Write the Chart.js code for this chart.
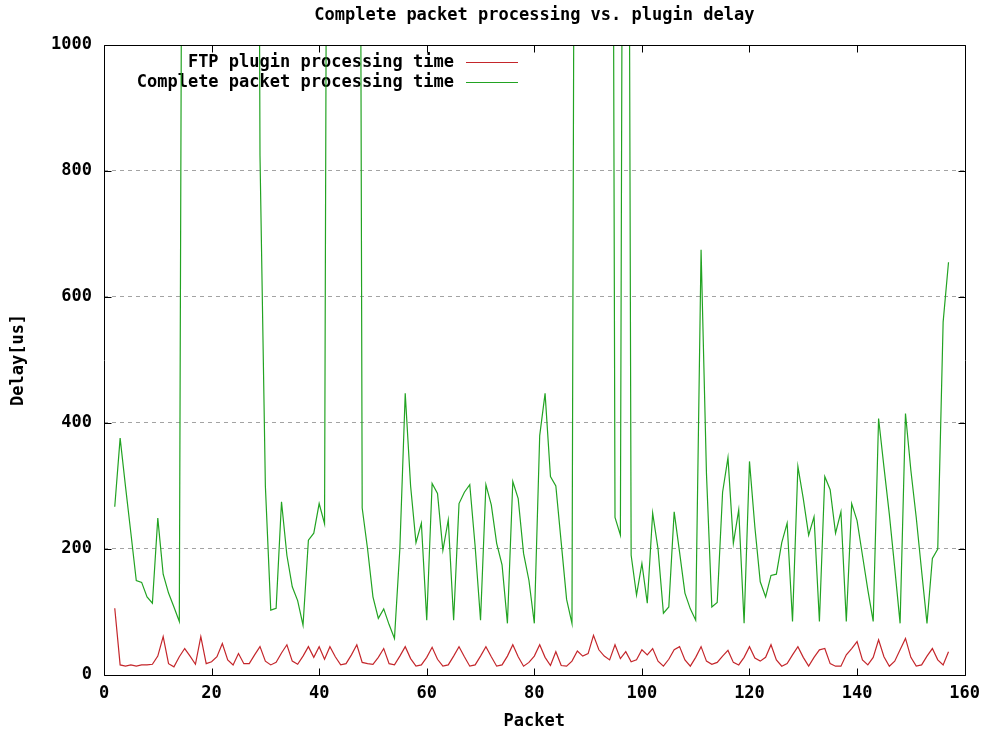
<!DOCTYPE html>
<html>
<head>
<meta charset="utf-8">
<title>Complete packet processing vs. plugin delay</title>
<script src="https://cdn.jsdelivr.net/npm/chart.js@4.4.1/dist/chart.umd.min.js"></script>
<style>
  html, body { margin: 0; padding: 0; background: #fff; }
  #wrap { width: 988px; height: 736px; }
</style>
</head>
<body>
<div id="wrap"><canvas id="delayChart" width="988" height="736"></canvas></div>
<script>
// packets 2..157, one sample per packet
const firstPacket = 2;

// FTP plugin processing time [us]
const ftpDelay = [
  106, 16, 14, 16, 14, 16, 16, 17, 30, 61,
  18, 13, 29, 42, 30, 17, 61, 18, 21, 29,
  50, 24, 16, 34, 18, 18, 32, 45, 22, 16,
  20, 35, 48, 22, 17, 30, 45, 28, 45, 25,
  45, 29, 16, 18, 32, 48, 20, 18, 17, 28,
  42, 18, 16, 30, 45, 26, 14, 16, 28, 44,
  25, 14, 16, 30, 45, 29, 14, 16, 30, 45,
  29, 14, 16, 30, 48, 29, 14, 20, 30, 48,
  28, 15, 37, 15, 14, 22, 38, 30, 34, 63,
  40, 30, 24, 48, 26, 37, 21, 24, 40, 32,
  42, 22, 14, 25, 40, 45, 24, 14, 28, 45,
  22, 17, 20, 30, 39, 20, 16, 28, 45, 27,
  22, 28, 48, 24, 14, 18, 32, 45, 28, 14,
  28, 40, 42, 18, 14, 14, 32, 42, 53, 24,
  16, 28, 56, 29, 14, 22, 40, 58, 28, 14,
  16, 30, 42, 24, 16, 37
];

// Complete packet processing time [us] (values above 1000 run off the plot)
const totalDelay = [
  267, 376, 299, 225, 150, 147, 124, 114, 249, 160,
  130, 108, 85, 2600, 3100, 2800, 3400, 2900, 3600, 3000,
  2700, 3300, 2900, 3500, 3100, 2800, 3200, 825, 300, 103,
  106, 275, 190, 140, 118, 79, 214, 225, 272, 240,
  2900, 3400, 3100, 3600, 3000, 3300, 265, 200, 124, 90,
  105, 80, 58, 200, 447, 300, 210, 241, 87, 304,
  288, 198, 246, 87, 272, 290, 302, 204, 87, 302,
  270, 209, 175, 82, 307, 280, 193, 150, 82, 380,
  447, 315, 300, 210, 120, 82, 3000, 3500, 2800, 3300,
  3100, 3600, 3200, 250, 222, 3000, 190, 127, 177, 114,
  257, 200, 98, 108, 259, 195, 130, 105, 87, 675,
  320, 108, 115, 290, 345, 209, 262, 82, 339, 235,
  148, 124, 158, 160, 210, 241, 85, 331, 280, 222,
  251, 85, 315, 294, 225, 259, 85, 272, 245, 190,
  135, 85, 407, 330, 255, 170, 82, 415, 325, 250,
  165, 82, 185, 200, 560, 655
];

const yTicks = [0, 200, 400, 600, 800, 1000];
const xTicks = [0, 20, 40, 60, 80, 100, 120, 140, 160];

const FONT = { family: '"DejaVu Sans Mono", monospace', size: 17, weight: 'bold' };
const RED = '#c4262b';
const GREEN = '#22a322';

const toPoints = vals => vals.map((v, i) => ({ x: firstPacket + i, y: v }));

// gnuplot style key: right aligned text followed by a line sample
const keyPlugin = {
  id: 'gnuplotKey',
  beforeDatasetsDraw(chart) {
    const { ctx, chartArea: a } = chart;
    ctx.save();
    ctx.font = `${FONT.weight} ${FONT.size}px ${FONT.family}`;
    ctx.textAlign = 'right';
    ctx.textBaseline = 'middle';
    chart.data.datasets.forEach((ds, i) => {
      const y = Math.round(a.top + 17 + i * 20) + 0.5;
      ctx.fillStyle = '#000';
      ctx.fillText(ds.label, a.left + 350, y);
      ctx.strokeStyle = ds.borderColor;
      ctx.lineWidth = 1;
      ctx.beginPath();
      ctx.moveTo(a.left + 362, y);
      ctx.lineTo(a.left + 414, y);
      ctx.stroke();
    });
    ctx.restore();
  }
};

// border box and inward tics on all four sides
const framePlugin = {
  id: 'frame',
  afterDatasetsDraw(chart) {
    const { ctx, chartArea: a, scales: { x, y } } = chart;
    const L = Math.round(a.left) + 0.5, R = Math.round(a.right) + 0.5;
    const T = Math.round(a.top) + 0.5, B = Math.round(a.bottom) + 0.5;
    ctx.save();
    ctx.strokeStyle = '#000';
    ctx.lineWidth = 1;
    ctx.beginPath();
    xTicks.forEach(v => {
      const px = Math.round(x.getPixelForValue(v)) + 0.5;
      ctx.moveTo(px, B); ctx.lineTo(px, B - 7);
      ctx.moveTo(px, T); ctx.lineTo(px, T + 7);
    });
    yTicks.forEach(v => {
      const py = Math.round(y.getPixelForValue(v)) + 0.5;
      ctx.moveTo(L, py); ctx.lineTo(L + 7, py);
      ctx.moveTo(R, py); ctx.lineTo(R - 7, py);
    });
    ctx.rect(L, T, R - L, B - T);
    ctx.stroke();
    ctx.restore();
  }
};

new Chart(document.getElementById('delayChart'), {
  type: 'line',
  data: {
    datasets: [{
      label: 'FTP plugin processing time',
      data: toPoints(ftpDelay),
      borderColor: RED,
      borderWidth: 1.2,
      pointRadius: 0,
      tension: 0
    }, {
      label: 'Complete packet processing time',
      data: toPoints(totalDelay),
      borderColor: GREEN,
      borderWidth: 1.2,
      pointRadius: 0,
      tension: 0
    }]
  },
  options: {
    responsive: false,
    animation: false,
    devicePixelRatio: 1,
    layout: { padding: { left: 0, right: 17, top: 0, bottom: 0 } },
    plugins: {
      legend: { display: false },
      tooltip: { enabled: false },
      title: {
        display: true,
        fullSize: false,
        text: 'Complete packet processing vs. plugin delay',
        color: '#000',
        font: FONT,
        padding: { top: 5, bottom: 19.5 }
      }
    },
    scales: {
      x: {
        type: 'linear',
        min: 0,
        max: 160,
        afterFit: s => { s.height = 61; },
        afterBuildTicks: s => { s.ticks = xTicks.map(v => ({ value: v })); },
        grid: { display: false, drawTicks: false },
        border: { display: false },
        ticks: { color: '#000', font: FONT, padding: 8, maxRotation: 0, callback: v => String(v) },
        title: { display: true, text: 'Packet', color: '#000', font: FONT, padding: { top: 0, bottom: 4 } }
      },
      y: {
        min: 0,
        max: 1000,
        afterFit: s => { s.width = 104; },
        afterBuildTicks: s => { s.ticks = yTicks.map(v => ({ value: v })); },
        grid: {
          drawTicks: false,
          lineWidth: 1,
          color: c => (c.tick && (c.tick.value === 0 || c.tick.value === 1000)) ? 'rgba(0,0,0,0)' : '#a3a3a3'
        },
        border: { display: false, dash: [4, 4] },
        ticks: { color: '#000', font: FONT, padding: 12, callback: v => String(v) },
        title: { display: true, text: 'Delay[us]', color: '#000', font: FONT, padding: { top: 8, bottom: 0 } }
      }
    }
  },
  plugins: [keyPlugin, framePlugin]
});
</script>
</body>
</html>
